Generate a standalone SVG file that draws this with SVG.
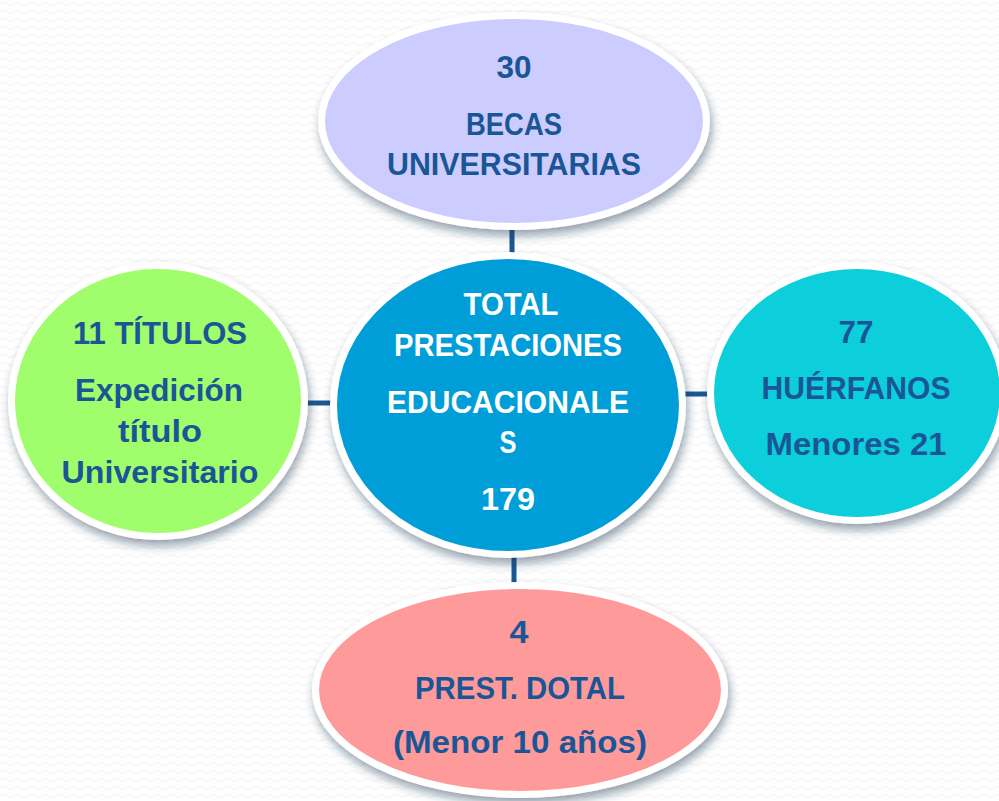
<svg xmlns="http://www.w3.org/2000/svg" width="999" height="801" viewBox="0 0 999 801">
<defs>
<pattern id="bg" width="14" height="8" patternUnits="userSpaceOnUse">
<path d="M0 4 Q3.5 1 7 4 T14 4" fill="none" stroke="#f1f1f1" stroke-width="1"/>
</pattern>
<filter id="sh" x="-20%" y="-20%" width="140%" height="150%">
<feDropShadow dx="2" dy="6" stdDeviation="5" flood-color="#1d3550" flood-opacity="0.45"/>
</filter>
<style>
.node{stroke:#ffffff;stroke-width:7;filter:url(#sh)}
.t{font-family:"Liberation Sans",Arial,sans-serif;font-weight:bold;font-size:31px;fill:#1a5696;text-anchor:middle}
.w{fill:#ffffff}
.c{stroke:#1c5795;stroke-width:5;fill:none}
</style>
</defs>
<rect width="999" height="801" fill="#ffffff"/>
<rect width="999" height="801" fill="url(#bg)"/>
<g id="connectors">
<line class="c" x1="512" y1="226" x2="512" y2="256"/>
<line class="c" x1="304" y1="403" x2="332" y2="403"/>
<line class="c" x1="684" y1="394" x2="712" y2="394"/>
<line class="c" x1="514" y1="553" x2="514" y2="587"/>
</g>
<g id="top">
<ellipse class="node" cx="514" cy="121" rx="192.5" ry="105.5" fill="#ccccff"/>
<text class="t" x="514" y="78" textLength="35" lengthAdjust="spacingAndGlyphs">30</text>
<text class="t" x="514" y="135" textLength="96" lengthAdjust="spacingAndGlyphs">BECAS</text>
<text class="t" x="514" y="175" textLength="254" lengthAdjust="spacingAndGlyphs">UNIVERSITARIAS</text>
</g>
<g id="center">
<ellipse class="node" cx="508" cy="405" rx="174.5" ry="149.5" fill="#019ed8"/>
<text class="t w" x="511" y="315" textLength="95" lengthAdjust="spacingAndGlyphs">TOTAL</text>
<text class="t w" x="508" y="356" textLength="228" lengthAdjust="spacingAndGlyphs">PRESTACIONES</text>
<text class="t w" x="508" y="413" textLength="242" lengthAdjust="spacingAndGlyphs">EDUCACIONALE</text>
<text class="t w" x="508" y="453" textLength="17" lengthAdjust="spacingAndGlyphs">S</text>
<text class="t w" x="508" y="510" textLength="54" lengthAdjust="spacingAndGlyphs">179</text>
</g>
<g id="left">
<ellipse class="node" cx="158" cy="401" rx="146.5" ry="135.5" fill="#a0fd6c"/>
<text class="t" x="160" y="344" textLength="174" lengthAdjust="spacingAndGlyphs">11 TÍTULOS</text>
<text class="t" x="159" y="401" textLength="168" lengthAdjust="spacingAndGlyphs">Expedición</text>
<text class="t" x="160" y="442" textLength="84" lengthAdjust="spacingAndGlyphs">título</text>
<text class="t" x="160" y="483" textLength="197" lengthAdjust="spacingAndGlyphs">Universitario</text>
</g>
<g id="right">
<ellipse class="node" cx="857" cy="393" rx="146.5" ry="127.5" fill="#0ecfdc"/>
<text class="t" x="856" y="343" textLength="35" lengthAdjust="spacingAndGlyphs">77</text>
<text class="t" x="856" y="399" textLength="189" lengthAdjust="spacingAndGlyphs">HUÉRFANOS</text>
<text class="t" x="856" y="455" textLength="181" lengthAdjust="spacingAndGlyphs">Menores 21</text>
</g>
<g id="bottom">
<ellipse class="node" cx="520" cy="690" rx="204.5" ry="104.5" fill="#ff9a9a"/>
<text class="t" x="519" y="643" textLength="19" lengthAdjust="spacingAndGlyphs">4</text>
<text class="t" x="520" y="699" textLength="210" lengthAdjust="spacingAndGlyphs">PREST. DOTAL</text>
<text class="t" x="520" y="753" textLength="254" lengthAdjust="spacingAndGlyphs">(Menor 10 años)</text>
</g>
</svg>
